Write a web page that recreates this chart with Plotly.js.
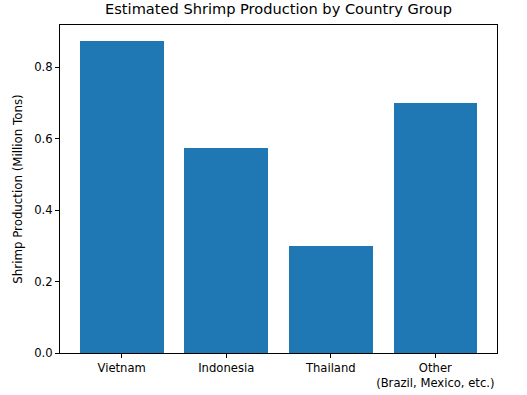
<!DOCTYPE html>
<html>
<head>
<meta charset="utf-8">
<script src="https://cdn.plot.ly/plotly-3.0.1.min.js"></script>
<style>html,body{margin:0;padding:0;background:#fff;}#chart{width:527px;height:395px;}</style>
</head>
<body>
<div id="chart"></div>
<script>
const categories = ["Vietnam", "Indonesia", "Thailand", "Other<br>(Brazil, Mexico, etc.)"];
const production = [0.875, 0.575, 0.30, 0.70];
const yTicks = [0.0, 0.2, 0.4, 0.6, 0.8];
const yTickLabels = ["0.0", "0.2", "0.4", "0.6", "0.8"];

const xIdx = categories.map((_, i) => i);
const ymax = Math.max(...production) * 1.05;

const trace = {
  type: "bar",
  x: xIdx,
  y: production,
  width: 0.8,
  marker: {color: "#1f77b4", line: {width: 0}},
  hoverinfo: "skip"
};

const layout = {
  width: 527, height: 395,
  margin: {l: 60, r: 30, t: 25, b: 42, pad: 0},
  paper_bgcolor: "#fff", plot_bgcolor: "#fff",
  font: {family: "DejaVu Sans", size: 11.6, color: "#000"},
  showlegend: false,
  title: {text: "Estimated Shrimp Production by Country Group", font: {size: 14.6, color: "#000"}, x: 0.5, xanchor: "center", xref: "paper", y: 1, yref: "container", yanchor: "top", pad: {t: 4}},
  bargap: 0,
  xaxis: {
    range: [-0.59, 3.59],
    tickmode: "array", tickvals: xIdx, ticktext: categories,
    ticks: "outside", ticklen: 4, tickwidth: 1, tickcolor: "#000",
    showline: true, mirror: true, linecolor: "#000", linewidth: 1,
    showgrid: false, zeroline: false, fixedrange: true
  },
  yaxis: {
    range: [0, ymax],
    tickmode: "array", tickvals: yTicks, ticktext: yTickLabels,
    ticks: "outside", ticklen: 4, tickwidth: 1, tickcolor: "#000",
    showline: true, mirror: true, linecolor: "#000", linewidth: 1,
    showgrid: false, zeroline: false, fixedrange: true,
    title: {text: "Shrimp Production (Million Tons)", font: {size: 11.8}, standoff: 9}
  }
};

Plotly.newPlot("chart", [trace], layout, {displayModeBar: false, staticPlot: true});
</script>
</body>
</html>
